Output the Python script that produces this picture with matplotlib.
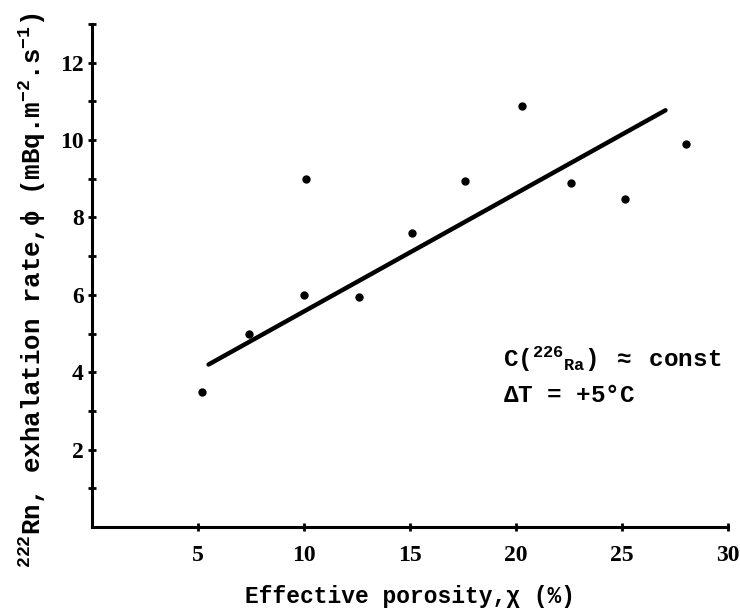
import numpy as np
import matplotlib
matplotlib.use("Agg")
import matplotlib.pyplot as plt

plt.rcParams['font.family'] = ['Liberation Mono', 'DejaVu Sans']
plt.rcParams['font.weight'] = 'bold'
plt.rcParams['mathtext.fontset'] = 'custom'
plt.rcParams['mathtext.rm'] = 'Liberation Mono:bold'
plt.rcParams['mathtext.it'] = 'Liberation Mono:bold'
plt.rcParams['mathtext.bf'] = 'Liberation Mono:bold'
plt.rcParams['mathtext.default'] = 'rm'

# measured points
porosity = [5.2, 7.4, 10.0, 10.1, 12.6, 15.1, 17.6, 20.3, 22.6, 25.15, 28.0]
exhalation = [3.5, 5.0, 6.0, 9.0, 5.95, 7.6, 8.95, 10.87, 8.9, 8.47, 9.9]

# fitted line end points
line_x = [5.5, 27.05]
line_y = [4.2, 10.77]

xticks = [5, 10, 15, 20, 25, 30]
yticks = [2, 4, 6, 8, 10, 12]
yminor = [1, 3, 5, 7, 9, 11, 13]

fig = plt.figure(figsize=(7.4, 6.14), dpi=100)
ax = fig.add_axes([0.1243, 0.1417, 0.8595, 0.8192])

ax.plot(line_x, line_y, color='black', lw=3.2, solid_capstyle='round')
ax.plot(porosity, exhalation, 'o', color='black', ms=5)

ax.set_xlim(0, 30)
ax.set_ylim(0, 13)
for s in ['top', 'right']:
    ax.spines[s].set_visible(False)
for s in ['left', 'bottom']:
    ax.spines[s].set_linewidth(2.2)

ax.set_xticks(xticks)
ax.set_yticks(yticks)
ax.set_yticks(yminor, minor=True)
tick_font = {'family': 'Liberation Serif', 'weight': 'bold', 'size': 17}
ax.set_xticklabels([str(t) for t in xticks], fontdict=tick_font)
ax.set_yticklabels([str(t) for t in yticks], fontdict=tick_font)
ax.tick_params(axis='both', which='both', direction='inout', width=2, length=6)
ax.tick_params(axis='x', pad=10)
ax.tick_params(axis='y', pad=3)

ax.set_xlabel("Effective porosity,\u03c7 (%)", fontsize=16.5, fontweight='bold', labelpad=14)
ax.set_ylabel(r"$^{222}$Rn, exhalation rate,$\phi$ (mBq.m$^{-2}$.s$^{-1}$)",
              fontsize=18.5, fontweight='bold')
ax.yaxis.set_label_coords(-0.069, 0.471)

ax.text(19.4, 4.32, r"C($^{226}$$_{Ra}$) $\approx$ const", fontsize=17.5, va='center', ha='left')
ax.text(19.4, 3.41, r"$\Delta$T = +5$\degree$C", fontsize=17.5, va='center', ha='left')

fig.savefig("out.png", dpi=100)
